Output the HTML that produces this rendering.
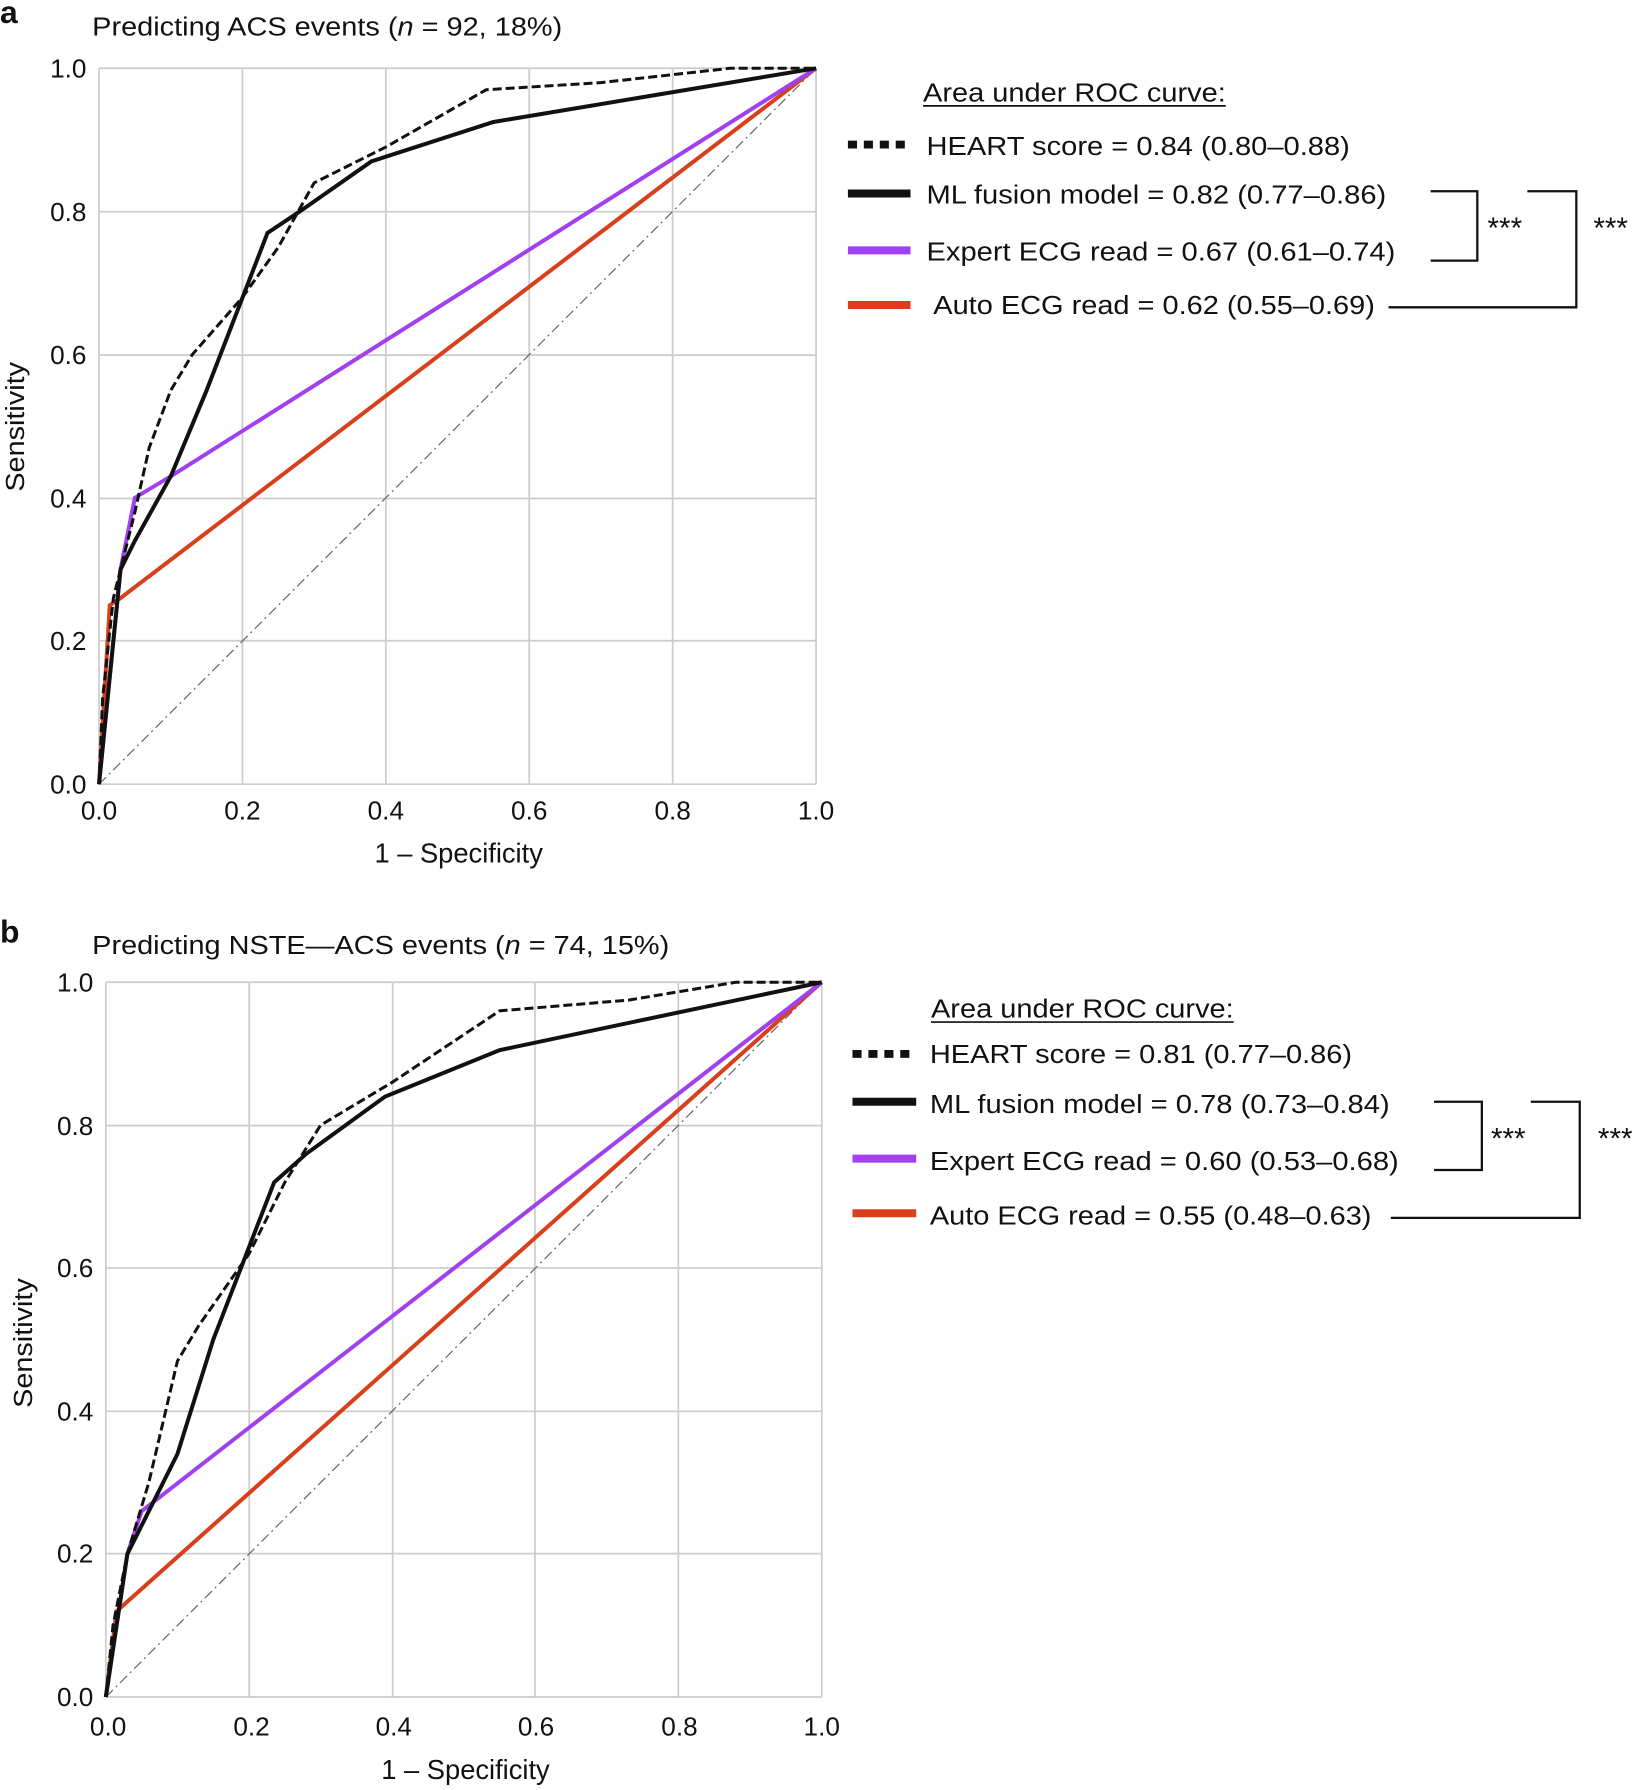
<!DOCTYPE html>
<html><head><meta charset="utf-8"><style>
html,body{margin:0;padding:0;background:#fff;}
svg{display:block;}
text{font-family:"Liberation Sans Narrow","Liberation Sans",sans-serif;fill:#111;}
.nss{vector-effect:non-scaling-stroke;fill:none;}
</style></head><body>
<svg width="1647" height="1790" viewBox="0 0 1447.1 1572.7" preserveAspectRatio="none" xmlns="http://www.w3.org/2000/svg">
<!-- Panel a -->
<text x="0" y="20" font-size="28" font-weight="bold" font-family="Liberation Sans">a</text>
<text x="81" y="31" font-size="23" textLength="413" lengthAdjust="spacingAndGlyphs">Predicting ACS events (<tspan font-style="italic">n</tspan> = 92, 18%)</text>
<g stroke="#ccc" stroke-width="1.5">
<line x1="87" y1="60" x2="717" y2="60"/><line x1="87" y1="186" x2="717" y2="186"/><line x1="87" y1="312" x2="717" y2="312"/><line x1="87" y1="438" x2="717" y2="438"/><line x1="87" y1="563" x2="717" y2="563"/><line x1="87" y1="689" x2="717" y2="689"/>
<line x1="87" y1="60" x2="87" y2="689"/><line x1="213" y1="60" x2="213" y2="689"/><line x1="339" y1="60" x2="339" y2="689"/><line x1="465" y1="60" x2="465" y2="689"/><line x1="591" y1="60" x2="591" y2="689"/><line x1="717" y1="60" x2="717" y2="689"/>
</g>
<g font-size="23" text-anchor="end">
<text x="76" y="68">1.0</text><text x="76" y="194">0.8</text><text x="76" y="320">0.6</text><text x="76" y="446">0.4</text><text x="76" y="571">0.2</text><text x="76" y="697">0.0</text>
</g>
<g font-size="23" text-anchor="middle">
<text x="87" y="720">0.0</text><text x="213" y="720">0.2</text><text x="339" y="720">0.4</text><text x="465" y="720">0.6</text><text x="591" y="720">0.8</text><text x="717" y="720">1.0</text>
<text x="403" y="758" font-size="24">1 – Specificity</text>
</g>
<text transform="translate(21,375) rotate(-90)" font-size="23" text-anchor="middle" font-family="Liberation Sans" textLength="114" lengthAdjust="spacingAndGlyphs">Sensitivity</text>
<g transform="translate(87,689) scale(630,-629)">
<polyline class="nss" stroke="#666" stroke-width="1.2" stroke-dasharray="10,4,2,4" points="0,0 1,1"/>
<polyline class="nss" stroke="#d8401c" stroke-width="4" points="0,0 0.015,0.25 0.03,0.26 1,1"/>
<polyline class="nss" stroke="#a040f0" stroke-width="4" points="0,0 0.03,0.3 0.05,0.4 0.1,0.43 1,1"/>
<polyline class="nss" stroke="#111" stroke-width="4" points="0,0 0.03,0.3 0.05,0.34 0.1,0.43 0.15,0.55 0.235,0.77 0.28,0.8 0.38,0.87 0.55,0.925 1,1"/>
<polyline class="nss" stroke="#111" stroke-width="3" stroke-dasharray="9,4" points="0,0 0.005,0.12 0.02,0.26 0.05,0.38 0.07,0.47 0.1,0.55 0.13,0.6 0.2,0.68 0.25,0.75 0.3,0.84 0.4,0.89 0.54,0.97 0.7,0.98 0.88,1 1,1"/>
</g>
<text x="811" y="89" font-size="23" textLength="266" lengthAdjust="spacingAndGlyphs">Area under ROC curve:</text>
<line x1="811" y1="93" x2="1077" y2="93" stroke="#111" stroke-width="1.5"/>
<line x1="745" y1="127" x2="800" y2="127" stroke="#111" stroke-width="7" stroke-dasharray="8,6"/>
<line x1="745" y1="170" x2="800" y2="170" stroke="#111" stroke-width="7"/>
<line x1="745" y1="220" x2="800" y2="220" stroke="#a040f0" stroke-width="7"/>
<line x1="745" y1="268" x2="800" y2="268" stroke="#d8401c" stroke-width="7"/>
<g font-size="23">
<text x="814" y="136" textLength="372" lengthAdjust="spacingAndGlyphs">HEART score = 0.84 (0.80–0.88)</text>
<text x="814" y="179" textLength="404" lengthAdjust="spacingAndGlyphs">ML fusion model = 0.82 (0.77–0.86)</text>
<text x="814" y="229" textLength="412" lengthAdjust="spacingAndGlyphs">Expert ECG read = 0.67 (0.61–0.74)</text>
<text x="820" y="276" textLength="388" lengthAdjust="spacingAndGlyphs">Auto ECG read = 0.62 (0.55–0.69)</text>
<text x="1307" y="209" font-size="26">***</text>
<text x="1400" y="209" font-size="26">***</text>
</g>
<polyline fill="none" stroke="#111" stroke-width="2" points="1257,168 1298,168 1298,229 1257,229"/>
<polyline fill="none" stroke="#111" stroke-width="2" points="1342,168 1385,168 1385,270 1220,270"/>

<!-- Panel b -->
<text x="0" y="828" font-size="28" font-weight="bold" font-family="Liberation Sans">b</text>
<text x="81" y="838" font-size="23" textLength="507" lengthAdjust="spacingAndGlyphs">Predicting NSTE—ACS events (<tspan font-style="italic">n</tspan> = 74, 15%)</text>
<g stroke="#ccc" stroke-width="1.5">
<line x1="93" y1="863" x2="722" y2="863"/><line x1="93" y1="989" x2="722" y2="989"/><line x1="93" y1="1114" x2="722" y2="1114"/><line x1="93" y1="1240" x2="722" y2="1240"/><line x1="93" y1="1365" x2="722" y2="1365"/><line x1="93" y1="1491" x2="722" y2="1491"/>
<line x1="93" y1="863" x2="93" y2="1491"/><line x1="219" y1="863" x2="219" y2="1491"/><line x1="345" y1="863" x2="345" y2="1491"/><line x1="470" y1="863" x2="470" y2="1491"/><line x1="596" y1="863" x2="596" y2="1491"/><line x1="722" y1="863" x2="722" y2="1491"/>
</g>
<g font-size="23" text-anchor="end">
<text x="82" y="871">1.0</text><text x="82" y="997">0.8</text><text x="82" y="1122">0.6</text><text x="82" y="1248">0.4</text><text x="82" y="1373">0.2</text><text x="82" y="1499">0.0</text>
</g>
<g font-size="23" text-anchor="middle">
<text x="95" y="1525">0.0</text><text x="221" y="1525">0.2</text><text x="346" y="1525">0.4</text><text x="471" y="1525">0.6</text><text x="597" y="1525">0.8</text><text x="722" y="1525">1.0</text>
<text x="409" y="1563" font-size="24">1 – Specificity</text>
</g>
<text transform="translate(28,1180) rotate(-90)" font-size="23" text-anchor="middle" font-family="Liberation Sans" textLength="114" lengthAdjust="spacingAndGlyphs">Sensitivity</text>
<g transform="translate(93,1491) scale(629,-628)">
<polyline class="nss" stroke="#666" stroke-width="1.2" stroke-dasharray="10,4,2,4" points="0,0 1,1"/>
<polyline class="nss" stroke="#d8401c" stroke-width="4" points="0,0 0.015,0.12 1,1"/>
<polyline class="nss" stroke="#a040f0" stroke-width="4" points="0,0 0.03,0.2 0.05,0.26 1,1"/>
<polyline class="nss" stroke="#111" stroke-width="4" points="0,0 0.03,0.2 0.06,0.26 0.1,0.34 0.15,0.5 0.235,0.72 0.28,0.76 0.39,0.84 0.55,0.905 1,1"/>
<polyline class="nss" stroke="#111" stroke-width="3" stroke-dasharray="9,4" points="0,0 0.01,0.1 0.03,0.2 0.06,0.3 0.1,0.47 0.13,0.52 0.2,0.62 0.25,0.72 0.3,0.8 0.4,0.86 0.55,0.96 0.73,0.975 0.88,1 1,1"/>
</g>
<text x="818" y="894" font-size="23" textLength="266" lengthAdjust="spacingAndGlyphs">Area under ROC curve:</text>
<line x1="818" y1="898" x2="1084" y2="898" stroke="#111" stroke-width="1.5"/>
<line x1="749" y1="926" x2="805" y2="926" stroke="#111" stroke-width="7" stroke-dasharray="8,6"/>
<line x1="749" y1="968" x2="805" y2="968" stroke="#111" stroke-width="7"/>
<line x1="749" y1="1018" x2="805" y2="1018" stroke="#a040f0" stroke-width="7"/>
<line x1="749" y1="1066" x2="805" y2="1066" stroke="#d8401c" stroke-width="7"/>
<g font-size="23">
<text x="817" y="934" textLength="371" lengthAdjust="spacingAndGlyphs">HEART score = 0.81 (0.77–0.86)</text>
<text x="817" y="978" textLength="404" lengthAdjust="spacingAndGlyphs">ML fusion model = 0.78 (0.73–0.84)</text>
<text x="817" y="1028" textLength="412" lengthAdjust="spacingAndGlyphs">Expert ECG read = 0.60 (0.53–0.68)</text>
<text x="817" y="1076" textLength="388" lengthAdjust="spacingAndGlyphs">Auto ECG read = 0.55 (0.48–0.63)</text>
<text x="1310" y="1009" font-size="26">***</text>
<text x="1404" y="1009" font-size="26">***</text>
</g>
<polyline fill="none" stroke="#111" stroke-width="2" points="1260,968 1302,968 1302,1028 1260,1028"/>
<polyline fill="none" stroke="#111" stroke-width="2" points="1345,968 1388,968 1388,1070 1222,1070"/>
</svg>
</body></html>
